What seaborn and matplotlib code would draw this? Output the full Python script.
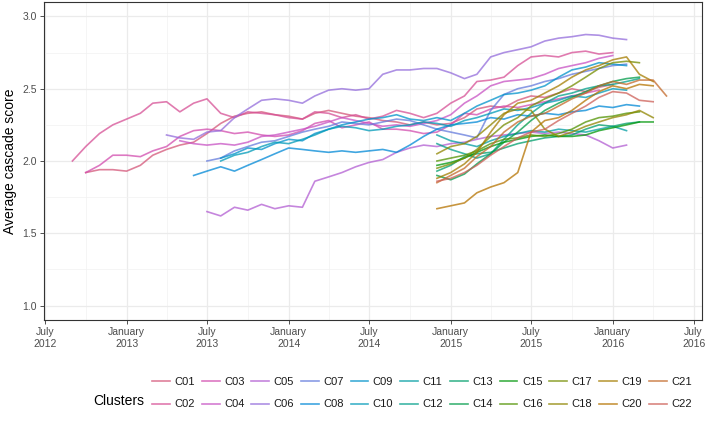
import numpy as np
import pandas as pd
import matplotlib
matplotlib.use('Agg')
import matplotlib.pyplot as plt
import seaborn as sns

# 클러스터별 월간 평균 cascade score (그림에서 눈으로 읽은 값)
clusters = ['C%02d' % i for i in range(1, 23)]
starts = ['2012-10', '2012-09', '2012-10', '2013-05', '2013-07', '2013-04',
          '2013-07', '2013-06', '2013-08', '2013-08',
          '2014-12', '2014-12', '2014-12', '2014-12', '2014-12', '2014-12',
          '2014-12', '2014-12', '2014-12', '2014-12', '2014-12', '2014-12']

c01 = [1.92, 1.94, 1.94,
       1.93, 1.97, 2.04, 2.08, 2.11, 2.13, 2.19, 2.26, 2.31, 2.33, 2.34, 2.32,
       2.31, 2.29, 2.33, 2.35, 2.33, 2.31, 2.30, 2.28, 2.27, 2.25, 2.27, 2.25,
       2.26, 2.30, 2.36, 2.38, 2.37, 2.42, 2.45, 2.44, 2.47, 2.50, 2.48, 2.51,
       2.53]
c02 = [2.00, 2.10, 2.19, 2.25,
       2.29, 2.33, 2.40, 2.41, 2.34, 2.40, 2.43, 2.33, 2.30, 2.34, 2.33, 2.32,
       2.30, 2.29, 2.34, 2.33, 2.30, 2.32, 2.29, 2.31, 2.35, 2.33, 2.30, 2.33,
       2.40, 2.45, 2.55, 2.56, 2.58, 2.66, 2.72, 2.73, 2.72, 2.75, 2.76, 2.74,
       2.75]
c03 = [1.92, 1.97, 2.04,
       2.04, 2.03, 2.07, 2.10, 2.17, 2.21, 2.22, 2.21, 2.19, 2.20, 2.18, 2.17,
       2.18, 2.21, 2.26, 2.28, 2.23, 2.25, 2.27, 2.22, 2.22, 2.21, 2.19, 2.20,
       2.25, 2.33, 2.32, 2.36, 2.38, 2.37, 2.39, 2.41, 2.43, 2.45, 2.47, 2.49]
c04 = [2.14, 2.12, 2.11, 2.12, 2.11, 2.13, 2.17, 2.18,
       2.20, 2.22, 2.24, 2.27, 2.30, 2.28, 2.26, 2.24, 2.25, 2.24, 2.26, 2.28,
       2.32, 2.40, 2.45, 2.52, 2.55, 2.56, 2.57, 2.60, 2.64, 2.66, 2.68, 2.71,
       2.73]
c05 = [1.65, 1.62, 1.68, 1.66, 1.70, 1.67,
       1.69, 1.68, 1.86, 1.89, 1.92, 1.96, 1.99, 2.01, 2.06, 2.09, 2.11, 2.10,
       2.12, 2.13, 2.15, 2.17, 2.18, 2.19, 2.20, 2.19, 2.20, 2.19, 2.18, 2.14,
       2.09, 2.11]
c06 = [2.18, 2.16, 2.15, 2.20, 2.21, 2.30, 2.36, 2.42, 2.43,
       2.42, 2.40, 2.45, 2.49, 2.50, 2.49, 2.50, 2.60, 2.63, 2.63, 2.64, 2.64,
       2.61, 2.57, 2.60, 2.72, 2.75, 2.77, 2.79, 2.83, 2.85, 2.86, 2.875, 2.87,
       2.85, 2.84]
c07 = [2.00, 2.02, 2.07, 2.10, 2.13, 2.14,
       2.17, 2.20, 2.22, 2.24, 2.27, 2.26, 2.25, 2.27, 2.29, 2.28, 2.25, 2.22,
       2.20, 2.18, 2.16, 2.35, 2.46, 2.50, 2.52, 2.55, 2.57, 2.60, 2.62, 2.64,
       2.66, 2.67]
c08 = [1.90, 1.93, 1.96, 1.93, 1.97, 2.01, 2.05,
       2.09, 2.08, 2.07, 2.06, 2.07, 2.06, 2.07, 2.08, 2.06, 2.11, 2.17, 2.22,
       2.25, 2.26, 2.27, 2.30, 2.29, 2.32, 2.31, 2.33, 2.32, 2.34, 2.35, 2.38,
       2.37, 2.39, 2.38]
c09 = [2.02, 2.05, 2.09, 2.08, 2.12,
       2.15, 2.14, 2.19, 2.22, 2.25, 2.27, 2.29, 2.30, 2.32, 2.29, 2.28, 2.30,
       2.28, 2.33, 2.38, 2.42, 2.46, 2.47, 2.49, 2.52, 2.58, 2.63, 2.65, 2.68,
       2.67, 2.66]
c10 = [2.00, 2.04, 2.06, 2.10, 2.13,
       2.12, 2.15, 2.18, 2.22, 2.24, 2.23, 2.21, 2.22, 2.24, 2.25, 2.27, 2.26,
       2.24, 2.28, 2.30, 2.33, 2.36, 2.35, 2.37, 2.40, 2.42, 2.45, 2.44, 2.47,
       2.50, 2.49]
c11 = [2.18, 2.14, 2.12, 2.10, 2.14, 2.17, 2.19, 2.21, 2.20, 2.22, 2.21, 2.20,
       2.22, 2.24, 2.21]
c12 = [2.12, 2.08, 2.05, 2.02, 2.05, 2.15, 2.25, 2.33, 2.40, 2.45, 2.47, 2.50,
       2.52, 2.53, 2.55, 2.57]
c13 = [1.93, 1.97, 2.03, 2.05, 2.06, 2.09, 2.12, 2.14, 2.16, 2.17, 2.18, 2.22,
       2.25, 2.24, 2.26, 2.27]
c14 = [1.90, 1.87, 1.91, 1.98, 2.05, 2.13, 2.20, 2.28, 2.35, 2.40, 2.44, 2.48,
       2.52, 2.55, 2.57, 2.58]
c15 = [1.97, 1.99, 2.02, 2.06, 2.10, 2.13, 2.15, 2.17, 2.18, 2.17, 2.17, 2.18,
       2.21, 2.23, 2.25, 2.27, 2.27]
c16 = [2.00, 2.02, 2.04, 2.07, 2.12, 2.15, 2.16, 2.18, 2.17, 2.19, 2.22, 2.27,
       2.30, 2.31, 2.33, 2.34]
c17 = [1.95, 1.98, 2.02, 2.08, 2.17, 2.25, 2.30, 2.38, 2.43, 2.47, 2.52, 2.58,
       2.64, 2.68, 2.69, 2.68]
c18 = [2.05, 2.10, 2.12, 2.17, 2.25, 2.33, 2.36, 2.35, 2.22, 2.17, 2.20, 2.24,
       2.27, 2.30, 2.32, 2.35, 2.30]
c19 = [1.88, 1.92, 1.98, 2.06, 2.20, 2.32, 2.40, 2.42, 2.47, 2.52, 2.58, 2.63,
       2.66, 2.70, 2.72, 2.60, 2.55]
c20 = [1.67, 1.69, 1.71, 1.78, 1.82, 1.85, 1.92, 2.20, 2.28, 2.30, 2.35, 2.42,
       2.48, 2.52, 2.50, 2.53, 2.52]
c21 = [1.85, 1.90, 1.95, 2.03, 2.10, 2.20, 2.27, 2.31, 2.33, 2.38, 2.43, 2.47,
       2.52, 2.55, 2.53, 2.56, 2.56, 2.45]
c22 = [1.86, 1.88, 1.92, 1.97, 2.04, 2.10, 2.16, 2.20, 2.22, 2.28, 2.33, 2.38,
       2.44, 2.48, 2.47, 2.42, 2.41]

series = [c01, c02, c03, c04, c05, c06, c07, c08, c09, c10, c11,
          c12, c13, c14, c15, c16, c17, c18, c19, c20, c21, c22]

tick_dates = ['2012-07-01', '2013-01-01', '2013-07-01', '2014-01-01', '2014-07-01',
              '2015-01-01', '2015-07-01', '2016-01-01', '2016-07-01']
tick_labels = ['July\n2012', 'January\n2013', 'July\n2013', 'January\n2014', 'July\n2014',
               'January\n2015', 'July\n2015', 'January\n2016', 'July\n2016']

## long format df
rows = []
for name, start, vals in zip(clusters, starts, series):
    dates = pd.date_range(start, periods=len(vals), freq='MS')
    rows.append(pd.DataFrame({'date': dates, 'score': vals, 'cluster': name}))
df = pd.concat(rows, ignore_index=True)


# ggplot 식 hue palette (hcl), 역방향
def hcl_hex(h, c=85, l=54):
    hr = np.radians(h)
    u, v = c * np.cos(hr), c * np.sin(hr)
    xn, yn, zn = 95.047, 100.0, 108.883
    un = 4 * xn / (xn + 15 * yn + 3 * zn)
    vn = 9 * yn / (xn + 15 * yn + 3 * zn)
    Y = yn * ((l + 16) / 116) ** 3
    up = u / (13 * l) + un
    vp = v / (13 * l) + vn
    X = 9 * Y * up / (4 * vp)
    Z = -X / 3 - 5 * Y + 3 * Y / vp
    X, Y, Z = X / 100, Y / 100, Z / 100
    rgb = [3.240479 * X - 1.537150 * Y - 0.498535 * Z,
           -0.969256 * X + 1.875992 * Y + 0.041556 * Z,
           0.055648 * X - 0.204043 * Y + 1.057311 * Z]
    out = []
    for ch in rgb:
        ch = min(max(ch, 0), 1)
        ch = 12.92 * ch if ch <= 0.0031308 else 1.055 * ch ** (1 / 2.4) - 0.055
        out.append(min(max(ch, 0), 1))
    return matplotlib.colors.to_hex(out)


hues = 15 + np.arange(22) * 360 / 22
palette = [hcl_hex(h) for h in hues[::-1]]

plt.rcParams['font.family'] = ['Liberation Sans', 'DejaVu Sans']

fig = plt.figure(figsize=(7.09, 4.24), dpi=100)
ax = fig.add_axes([44 / 709, 1 - 320 / 424, 658 / 709, 318 / 424])

sns.lineplot(data=df, x='date', y='score', hue='cluster', palette=palette,
             estimator=None, alpha=0.75, linewidth=1.2, ax=ax)

ax.set_ylim(0.9, 3.1)
ax.set_xlim(pd.Timestamp('2012-06-29'), pd.Timestamp('2016-07-20'))
ax.set_yticks([1.0, 1.5, 2.0, 2.5, 3.0])
ax.set_yticks([1.25, 1.75, 2.25, 2.75], minor=True)
ax.set_xticks(pd.to_datetime(tick_dates))
ax.set_xticklabels(tick_labels)
ax.set_xticks(pd.to_datetime(['2012-10-01', '2013-04-01', '2013-10-01', '2014-04-01',
                              '2014-10-01', '2015-04-01', '2015-10-01', '2016-04-01']),
              minor=True)
ax.grid(which='major', color='#EBEBEB', linewidth=0.9)
ax.grid(which='minor', color='#F2F2F2', linewidth=0.5)
ax.set_axisbelow(True)
ax.tick_params(which='major', length=3, width=0.6, color='#333333',
               labelsize=7.5, labelcolor='#4D4D4D', pad=2)
ax.tick_params(which='minor', length=0)
for sp in ax.spines.values():
    sp.set_color('#333333')
    sp.set_linewidth(0.8)
ax.set_xlabel('')
ax.set_ylabel('Average cascade score', fontsize=10, labelpad=4)

handles, labels = ax.get_legend_handles_labels()
ax.get_legend().remove()
leg = fig.legend(handles, labels, ncol=11, loc='center', bbox_to_anchor=(0.595, 0.073),
                 frameon=False, fontsize=8, handlelength=1.6, handletextpad=0.4,
                 columnspacing=0.62, labelspacing=1.15, labelcolor='#1A1A1A')
for h in leg.get_lines():
    h.set_linewidth(1.2)
    h.set_alpha(0.75)

fig.canvas.draw()
bb = leg.get_window_extent()
fig.text((bb.x0 - 3) / 709, (bb.y0 + bb.y1) / 2 / 424 - 0.018, 'Clusters',
         ha='right', va='center', fontsize=10)

plt.savefig('out.png', dpi=100)
